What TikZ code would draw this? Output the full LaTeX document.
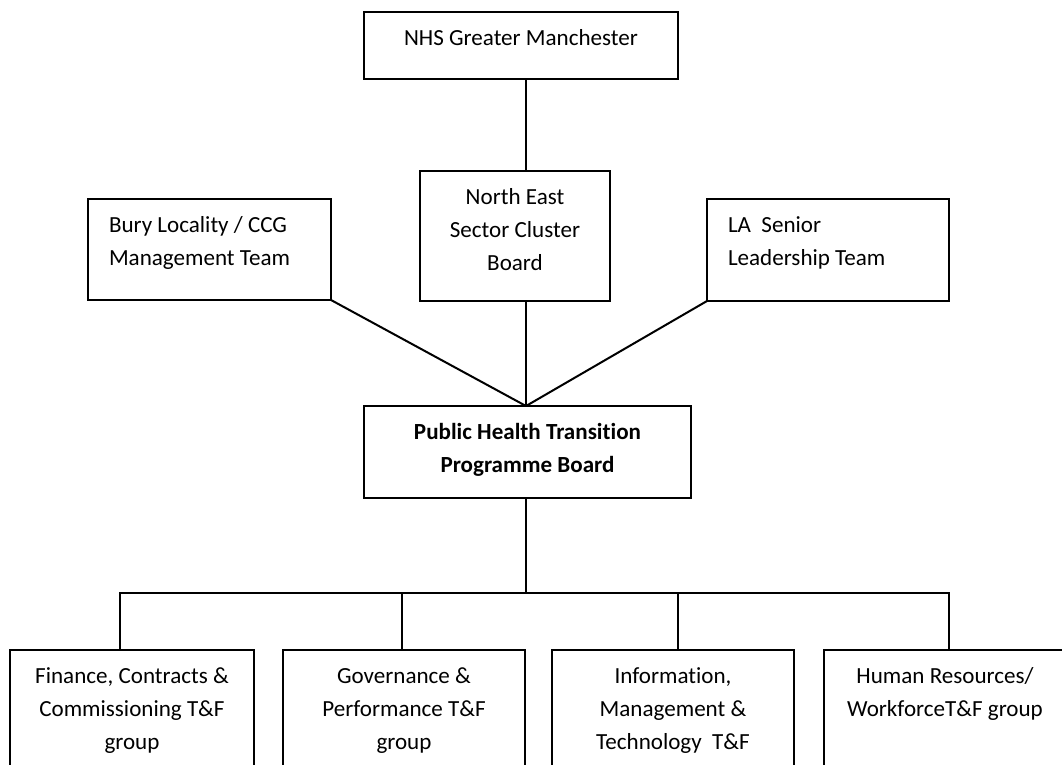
\documentclass[tikz,border=0pt]{standalone}
\usepackage{fontspec}
\setmainfont{Carlito}[Ligatures=NoCommon]
\newcommand{\orgC}[3]{\parbox[c][#2][t]{#1}{\centering\rule{0pt}{24.75pt}#3}}
\newcommand{\orgL}[3]{\parbox[c][#2][t]{#1}{\raggedright\leftskip=15.75pt\rule{0pt}{24.75pt}#3}}
\tikzset{
  orgbox/.style={draw, rectangle, line width=1.5pt, inner sep=0pt, outer sep=0pt, anchor=north west},
  conn/.style={line width=1.5pt},
}
\begin{document}
\begin{tikzpicture}[x=0.75pt, y=-0.75pt, every node/.style={font=\fontsize{17.3pt}{24.75pt}\selectfont}]
\useasboundingbox (0,0) rectangle (1062,764);
\clip (0,0) rectangle (1062,764);
\node[orgbox] (nhs) at (364,12) {\orgC{235.5pt}{50.25pt}{NHS Greater Manchester}};
\node[orgbox] (ne) at (420,171) {\orgC{142.5pt}{97.5pt}{North East\\Sector Cluster\\Board}};
\node[orgbox] (bury) at (88,199) {\orgL{182.25pt}{75.75pt}{Bury Locality / CCG\\Management Team}};
\node[orgbox] (la) at (707,199) {\orgL{181.5pt}{76.5pt}{LA\ \ Senior\\Leadership Team}};
\node[orgbox] (pht) at (364,406) {\orgC{245.25pt}{69pt}{\bfseries Public Health Transition\\Programme Board}};
\node[orgbox] (fin) at (10,650) {\orgC{183pt}{112.5pt}{Finance, Contracts \&\\Commissioning T\&F\\group}};
\node[orgbox] (gov) at (283,650) {\orgC{181.5pt}{112.5pt}{Governance \&\\Performance T\&F\\group}};
\node[orgbox] (inf) at (552,650) {\orgC{181.5pt}{112.5pt}{Information,\\Management \&\\Technology\ \ T\&F}};
\node[orgbox] (hum) at (824,650) {\orgC{181.5pt}{112.5pt}{Human Resources/\\WorkforceT\&F group}};
\coordinate (spine) at (526,0);
\coordinate (barL) at (120,593);
\coordinate (barR) at (949,593);
\coordinate (d2) at (402,593);
\coordinate (d3) at (678,593);
\draw[conn] (nhs.south -| spine) -- (ne.north -| spine);
\draw[conn] (ne.south -| spine) -- (pht.north -| spine);
\draw[conn] (bury.south east) -- (pht.north -| spine);
\draw[conn] (la.south west) -- (pht.north -| spine);
\draw[conn] (pht.south -| spine) -- (barL -| spine);
\draw[conn] (barL |- fin.north) -- (barL) -- (barR) -- (barR |- hum.north);
\draw[conn] (d2) -- (d2 |- gov.north);
\draw[conn] (d3) -- (d3 |- inf.north);
\end{tikzpicture}
\end{document}
